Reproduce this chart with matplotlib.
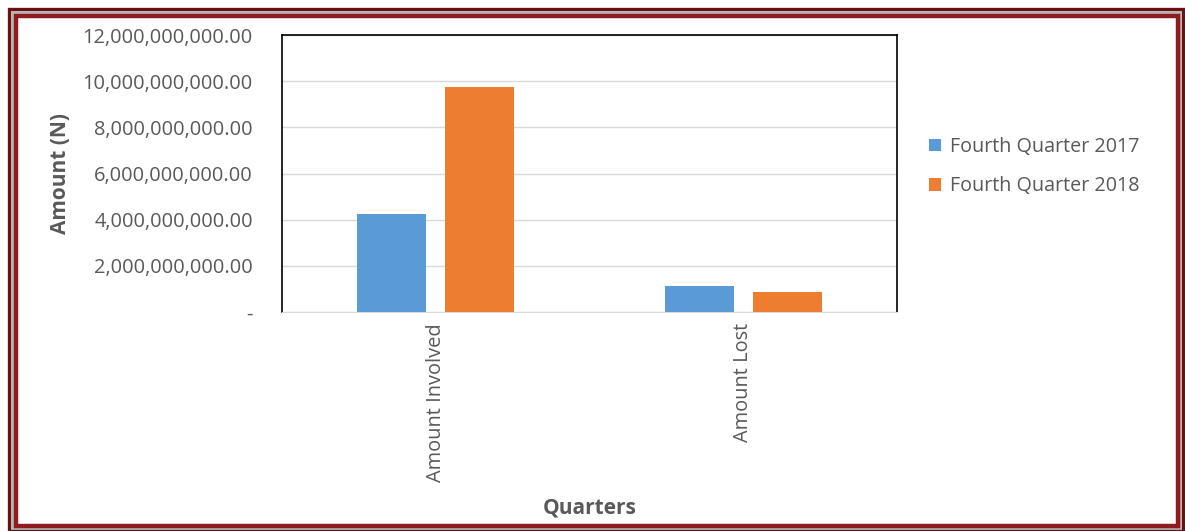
import numpy as np
import matplotlib
matplotlib.use("Agg")
import matplotlib.pyplot as plt
from matplotlib.patches import Rectangle
from matplotlib.ticker import FuncFormatter

categories = ["Amount Involved", "Amount Lost"]
series_names = ["Fourth Quarter 2017", "Fourth Quarter 2018"]
q4_2017 = [4.25e9, 1.13e9]
q4_2018 = [9.75e9, 0.87e9]
colors = ["#5b9bd5", "#ed7d31"]

plt.rcParams['font.family'] = ['Open Sans', 'DejaVu Sans']

fig = plt.figure(figsize=(11.85, 5.31), dpi=100)
fig.patch.set_facecolor("white")

# framed border round the whole chart
W, H = 1185, 531
def frame(x0, y0, x1, y1, color, lw):
    fig.patches.append(Rectangle((x0 / W, 1 - y1 / H), (x1 - x0) / W, (y1 - y0) / H,
                                 transform=fig.transFigure, fill=False,
                                 edgecolor=color, linewidth=lw, zorder=0))
frame(8.5, 8.5, 1183, 530, "#6e0f12", 2.4)
frame(12, 12, 1180, 528, "#b4b4b4", 2.0)
frame(16, 16, 1178, 526, "#8e1b20", 3.2)

ax = fig.add_axes([282 / W, 1 - 312 / H, 615 / W, 277 / H])
x = np.arange(len(categories))
width = 0.224
offset = 0.143
ax.bar(x - offset, q4_2017, width, color=colors[0], label=series_names[0], zorder=3)
ax.bar(x + offset, q4_2018, width, color=colors[1], label=series_names[1], zorder=3)

ax.set_xlim(-0.5, 1.5)
ax.set_ylim(0, 12e9)
ax.set_yticks(np.arange(0, 12.1e9, 2e9))
ax.yaxis.set_major_formatter(FuncFormatter(lambda v, p: "-" if v == 0 else f"{v:,.2f}"))
ax.grid(axis="y", color="#d9d9d9", linewidth=1, zorder=0)
ax.set_xticks(x)
ax.set_xticklabels(categories, rotation=90)
ax.tick_params(axis="both", length=0, labelsize=14.4, colors="#595959", pad=8)
ax.tick_params(axis="y", pad=21)

for side in ["top", "left", "right"]:
    ax.spines[side].set_color("#000000")
    ax.spines[side].set_linewidth(1.2)
ax.spines["bottom"].set_color("#d9d9d9")

ax.set_ylabel("Amount (N)", fontsize=15, fontweight="bold", color="#595959", va="center")
ax.yaxis.set_label_coords(60 / W, 1 - 174 / H, transform=fig.transFigure)
ax.set_xlabel("Quarters", fontsize=15, fontweight="bold", color="#595959", labelpad=11)

ax.legend(loc="center left", bbox_to_anchor=(1.023, 0.525), frameon=False,
          fontsize=14.2, labelcolor="#595959", handlelength=0.6, handleheight=0.6,
          labelspacing=1.0, handletextpad=0.45)

fig.savefig("out.png", dpi=100)
